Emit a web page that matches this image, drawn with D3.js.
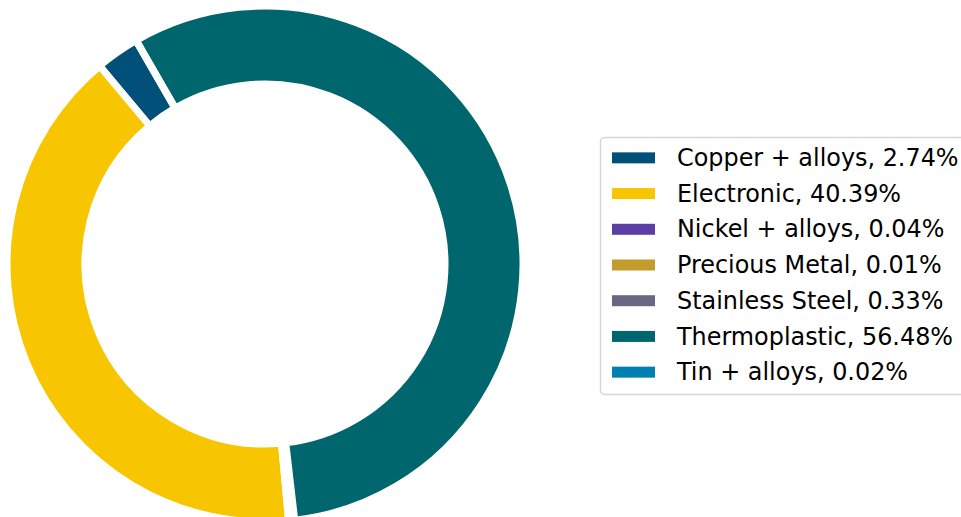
<!DOCTYPE html>
<html>
<head>
<meta charset="utf-8">
<script src="https://cdn.jsdelivr.net/npm/d3@7"></script>
<style>
  body { margin: 0; background: #fff; }
  svg { font-family: "DejaVu Sans", sans-serif; }
</style>
</head>
<body>
<div id="chart"></div>
<script>
// Data
const materials = ["Copper + alloys", "Electronic", "Nickel + alloys", "Precious Metal", "Stainless Steel", "Thermoplastic", "Tin + alloys"];
const shares = [2.74, 40.39, 0.04, 0.01, 0.33, 56.48, 0.02];
const colors = ["#00507a", "#f7c600", "#5a3ea3", "#c29d2c", "#686882", "#00666e", "#0080b0"];

const width = 961, height = 517;
const cx = 265, cy = 264;
const outerR = 258, innerR = 180;

const svg = d3.select("#chart")
    .append("svg")
    .attr("width", width)
    .attr("height", height);

// matplotlib-style: start at 120deg, counter-clockwise
const startDeg = 120;
const toD3 = deg => (90 - deg) * Math.PI / 180;

const pie = d3.pie()
    .sort(null)
    .value(d => d)
    .startAngle(toD3(startDeg))
    .endAngle(toD3(startDeg + 360));

const arc = d3.arc()
    .innerRadius(innerR)
    .outerRadius(outerR);

svg.append("g")
    .attr("transform", `translate(${cx},${cy})`)
    .selectAll("path")
    .data(pie(shares))
    .enter()
    .append("path")
    .attr("d", arc)
    .attr("fill", (d, i) => colors[i])
    .attr("stroke", "#fff")
    .attr("stroke-width", 7)
    .attr("stroke-linejoin", "miter");

// Legend
const legend = svg.append("g");
legend.append("rect")
    .attr("x", 600.5)
    .attr("y", 137.5)
    .attr("width", 380)
    .attr("height", 257)
    .attr("rx", 4)
    .attr("fill", "#fff")
    .attr("stroke", "#d6d6d6")
    .attr("stroke-width", 1.5);

const y = d3.scaleBand()
    .domain(materials)
    .range([139.5, 389.5]);

const items = legend.selectAll(".item")
    .data(materials)
    .enter()
    .append("g")
    .attr("class", "item")
    .attr("transform", d => `translate(0,${y(d) + y.bandwidth() / 2})`);

items.append("rect")
    .attr("x", 612)
    .attr("y", -5)
    .attr("width", 43)
    .attr("height", 11)
    .attr("fill", (d, i) => colors[i]);

items.append("text")
    .attr("x", 677)
    .attr("y", 0)
    .attr("dy", "0.36em")
    .attr("font-size", 23.9)
    .attr("fill", "#000")
    .text((d, i) => `${d}, ${shares[i].toFixed(2)}%`);
</script>
</body>
</html>
